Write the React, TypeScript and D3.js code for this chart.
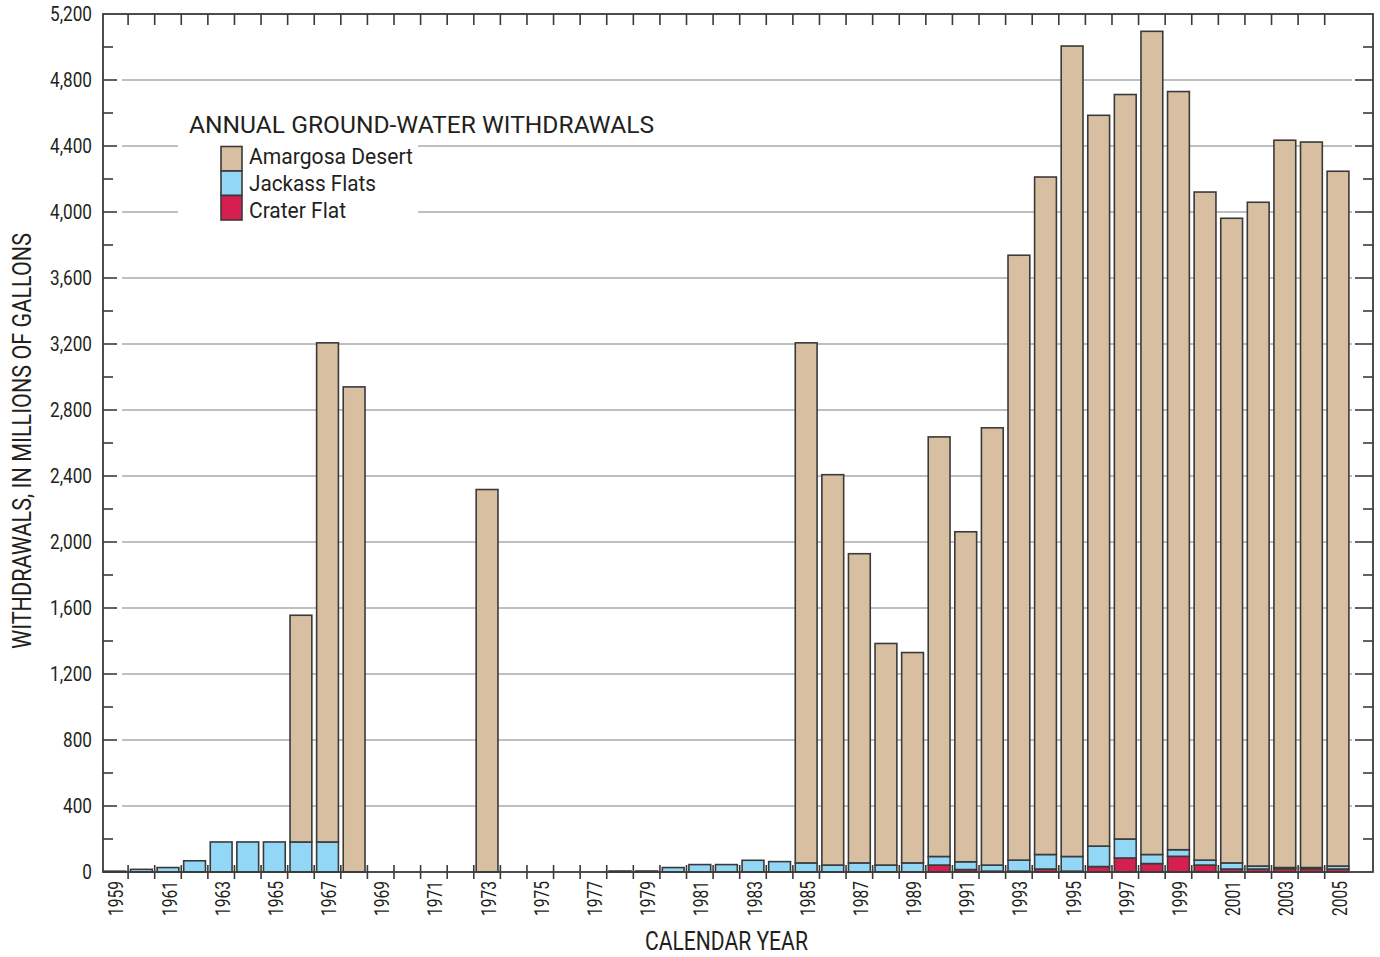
import React from "react";
import * as d3 from "d3";

// Annual ground-water withdrawals by basin, millions of gallons
const years = [
  1959, 1960, 1961, 1962, 1963, 1964, 1965, 1966, 1967, 1968,
  1969, 1970, 1971, 1972, 1973, 1974, 1975, 1976, 1977, 1978,
  1979, 1980, 1981, 1982, 1983, 1984, 1985, 1986, 1987, 1988,
  1989, 1990, 1991, 1992, 1993, 1994, 1995, 1996, 1997, 1998,
  1999, 2000, 2001, 2002, 2003, 2004, 2005,
];

const craterFlat = [
  0, 0, 0, 0, 0, 0, 0, 0, 0, 0,
  0, 0, 0, 0, 0, 0, 0, 0, 0, 0,
  0, 0, 0, 0, 0, 0, 0, 0, 0, 0,
  0, 42, 15, 5, 5, 18, 5, 33, 85, 51,
  95, 42, 18, 18, 20, 20, 18,
];

const jackassFlats = [
  5, 16, 27, 68, 182, 182, 182, 182, 182, 0,
  0, 0, 0, 0, 0, 0, 0, 0, 0, 6,
  6, 27, 45, 45, 71, 63, 55, 42, 55, 42,
  55, 52, 47, 37, 67, 88, 89, 124, 115, 55,
  40, 30, 37, 18, 7, 7, 18,
];

const amargosaDesert = [
  0, 0, 0, 0, 0, 0, 0, 1374, 3025, 2940,
  0, 0, 0, 0, 2318, 0, 0, 0, 0, 0,
  0, 0, 0, 0, 0, 0, 3152, 2366, 1874, 1343,
  1275, 2543, 2000, 2650, 3666, 4106, 4912, 4429, 4512, 4989,
  4595, 4049, 3907, 4023, 4408, 4397, 4211,
];

const seriesNames = ["Crater Flat", "Jackass Flats", "Amargosa Desert"];
const seriesKeys = ["crater", "jackass", "amargosa"];
const seriesColors = ["#d51f50", "#92d7f5", "#d9bfa2"];

const yMajorTicks = [400, 800, 1200, 1600, 2000, 2400, 2800, 3200, 3600, 4000, 4400, 4800];
const yLabelTicks = [0, 400, 800, 1200, 1600, 2000, 2400, 2800, 3200, 3600, 4000, 4400, 4800, 5200];
const yMinorTicks = [200, 600, 1000, 1400, 1800, 2200, 2600, 3000, 3400, 3800, 4200, 4600, 5000];

const FONT = "Roboto, 'Liberation Sans', sans-serif";
const INK = "#231f20";
const FRAME = "#3a3a3a";

const W = 1380;
const H = 957;
const frame = { left: 103, right: 1373, top: 14, bottom: 872 };
const bandRange: [number, number] = [101.5, 1351.3];

export default function App() {
  const rows = years.map((year, i) => ({
    year,
    crater: craterFlat[i],
    jackass: jackassFlats[i],
    amargosa: amargosaDesert[i],
  }));

  const x = d3.scaleBand<number>().domain(years).range(bandRange).padding(0);
  const step = x.step();
  const barW = step * 0.82;

  const y = d3.scaleLinear().domain([0, 5200]).range([frame.bottom, frame.top]);

  const stacked = d3.stack<any>().keys(seriesKeys)(rows);

  // legend block that interrupts the grid
  const legendGap = { x0: 178, x1: 418, y0: 100, y1: 225 };

  const gridSegments: { x1: number; x2: number; y: number }[] = [];
  yMajorTicks.forEach((v) => {
    const yy = y(v);
    const gx0 = frame.left + 19;
    const gx1 = frame.right - 21;
    if (yy > legendGap.y0 && yy < legendGap.y1) {
      gridSegments.push({ x1: gx0, x2: legendGap.x0, y: yy });
      gridSegments.push({ x1: legendGap.x1, x2: gx1, y: yy });
    } else {
      gridSegments.push({ x1: gx0, x2: gx1, y: yy });
    }
  });

  const boundaries = years.slice(1).map((yr) => x(yr) as number);
  const fmt = d3.format(",");

  const legendItems = [
    { name: seriesNames[2], color: seriesColors[2], len: 164 },
    { name: seriesNames[1], color: seriesColors[1], len: 127 },
    { name: seriesNames[0], color: seriesColors[0], len: 97 },
  ];

  return (
    <svg
      width={W}
      height={H}
      viewBox={`0 0 ${W} ${H}`}
      style={{ position: "absolute", left: 0, top: 0, background: "#fff" }}
      fontFamily={FONT}
    >
      <rect x={0} y={0} width={W} height={H} fill="#fff" />

      {/* grid */}
      {gridSegments.map((g, i) => (
        <line key={`g${i}`} x1={g.x1} x2={g.x2} y1={g.y} y2={g.y} stroke="#aaaaaa" strokeWidth={1.4} />
      ))}

      {/* bars */}
      {stacked.map((layer, li) => (
        <g key={seriesKeys[li]}>
          {layer.map((d: any, i: number) => {
            const v = d[1] - d[0];
            if (v <= 0) return null;
            const x0 = (x(years[i]) as number) + (step - barW) / 2;
            return (
              <rect
                key={i}
                x={x0}
                y={y(d[1])}
                width={barW}
                height={Math.max(0.5, y(d[0]) - y(d[1]))}
                fill={seriesColors[li]}
                stroke={FRAME}
                strokeWidth={1.6}
              />
            );
          })}
        </g>
      ))}

      {/* frame */}
      <rect
        x={frame.left}
        y={frame.top}
        width={frame.right - frame.left}
        height={frame.bottom - frame.top}
        fill="none"
        stroke={FRAME}
        strokeWidth={1.8}
      />

      {/* year ticks: bottom crossing, top inward */}
      {boundaries.map((bx, i) => (
        <g key={`t${i}`} stroke={FRAME} strokeWidth={1.6}>
          <line x1={bx} x2={bx} y1={frame.bottom - 7} y2={frame.bottom + 7} />
          <line x1={bx} x2={bx} y1={frame.top} y2={frame.top + 11} />
        </g>
      ))}

      {/* value ticks */}
      {yMajorTicks.map((v) => (
        <g key={`m${v}`} stroke={FRAME} strokeWidth={1.6}>
          <line x1={frame.left} x2={frame.left + 14} y1={y(v)} y2={y(v)} />
          <line x1={frame.right - 18} x2={frame.right} y1={y(v)} y2={y(v)} />
        </g>
      ))}
      {yMinorTicks.map((v) => (
        <g key={`n${v}`} stroke={FRAME} strokeWidth={1.6}>
          <line x1={frame.left} x2={frame.left + 10} y1={y(v)} y2={y(v)} />
          <line x1={frame.right - 10} x2={frame.right} y1={y(v)} y2={y(v)} />
        </g>
      ))}

      {/* value labels */}
      {yLabelTicks.map((v) => (
        <text
          key={`l${v}`}
          transform={`translate(92,${y(v)}) scale(0.88,1)`}
          dy="0.36em"
          textAnchor="end"
          fontSize={19.5}
          fill={INK}
        >
          {fmt(v)}
        </text>
      ))}

      {/* year labels */}
      {years
        .filter((yr) => yr % 2 === 1)
        .map((yr) => {
          const cx = (x(yr) as number) + step / 2 + 1;
          return (
            <text
              key={`y${yr}`}
              transform={`translate(${cx},${frame.bottom + 9}) rotate(-90) scale(0.74,1)`}
              dy="0.36em"
              textAnchor="end"
              fontSize={21}
              fill={INK}
            >
              {yr}
            </text>
          );
        })}

      {/* axis titles */}
      <text
        x={(bandRange[0] + bandRange[1]) / 2 - 81.5}
        y={950}
        textLength={163}
        lengthAdjust="spacingAndGlyphs"
        fontSize={25}
        fill={INK}
      >
        CALENDAR YEAR
      </text>
      <text
        transform={`translate(31,${(frame.top + frame.bottom) / 2 - 2}) rotate(-90)`}
        x={-208}
        textLength={416}
        lengthAdjust="spacingAndGlyphs"
        fontSize={25}
        fill={INK}
      >
        WITHDRAWALS, IN MILLIONS OF GALLONS
      </text>

      {/* legend */}
      <text x={189} y={133} textLength={465} lengthAdjust="spacingAndGlyphs" fontSize={23} fill={INK}>
        ANNUAL GROUND-WATER WITHDRAWALS
      </text>
      {legendItems.map((it, i) => (
        <g key={it.name}>
          <rect
            x={221}
            y={146.5 + i * 24.5}
            width={21}
            height={24.5}
            fill={it.color}
            stroke={FRAME}
            strokeWidth={1.6}
          />
          <text
            x={249}
            y={164 + i * 27}
            textLength={it.len}
            lengthAdjust="spacingAndGlyphs"
            fontSize={21.5}
            fill={INK}
          >
            {it.name}
          </text>
        </g>
      ))}
    </svg>
  );
}
